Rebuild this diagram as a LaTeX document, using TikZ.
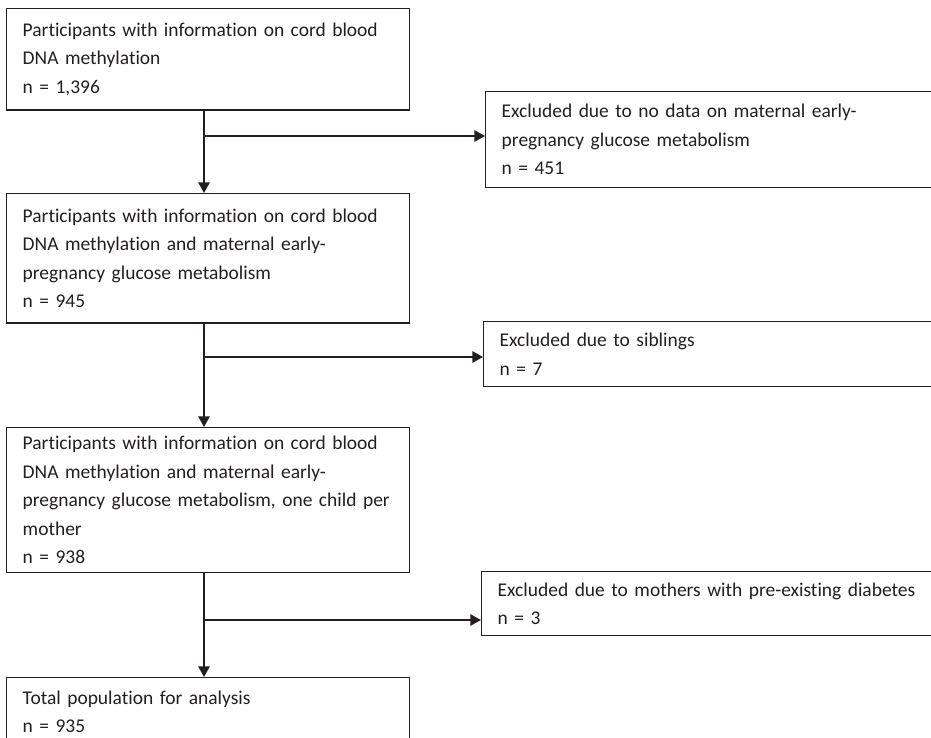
\documentclass[tikz,border=0pt]{standalone}
\usepackage{fontspec}
\setmainfont{Carlito}[Ligatures=NoCommon]
\usetikzlibrary{arrows.meta}
\definecolor{ink}{RGB}{35,31,32}
\begin{document}
\begin{tikzpicture}[
  x=0.75pt, y=-0.75pt,
  box/.style={draw=ink, line width=1.1pt, anchor=north west, align=left, text=ink,
    inner xsep=12pt, inner ysep=0pt, font=\fontsize{14.6}{21.4}\selectfont},
  main/.style={box, text width=278pt},
  excl/.style={box, text width=333pt},
  arr/.style={draw=ink, line width=1.3pt, -{Triangle[length=8pt,width=8.5pt]}}
]
\useasboundingbox (0,0) rectangle (931,738);
\clip (0,0) rectangle (931,738);
\node[main, minimum height=76pt] (p1) at (6,8) {Participants with information on cord blood\\DNA methylation\\n = 1,396};
\node[main, minimum height=97pt] (p2) at (6,193) {Participants with information on cord blood\\DNA methylation and maternal early-\\pregnancy glucose metabolism\\n = 945};
\node[main, minimum height=108.75pt] (p3) at (6,427) {Participants with information on cord blood\\DNA methylation and maternal early-\\pregnancy glucose metabolism, one child per\\mother\\n = 938};
\node[main, minimum height=51pt] (p4) at (6,677) {Total population for analysis\\n = 935};
\node[excl, minimum height=72pt] (x1) at (485,91) {Excluded due to no data on maternal early-\\pregnancy glucose metabolism\\n = 451};
\node[excl, minimum height=48.75pt] (x2) at (483,321) {Excluded due to siblings\\n = 7};
\node[excl, minimum height=48pt] (x3) at (481,571) {Excluded due to mothers with pre-existing diabetes\\n = 3};
\coordinate (s1) at (204,136);
\coordinate (s2) at (204,357);
\coordinate (s3) at (204,620);
\draw[arr] (p1.south -| s1) -- (p2.north -| s1);
\draw[arr] (s1) -- (s1 -| x1.west);
\draw[arr] (p2.south -| s2) -- (p3.north -| s2);
\draw[arr] (s2) -- (s2 -| x2.west);
\draw[arr] (p3.south -| s3) -- (p4.north -| s3);
\draw[arr] (s3) -- (s3 -| x3.west);
\end{tikzpicture}
\end{document}
